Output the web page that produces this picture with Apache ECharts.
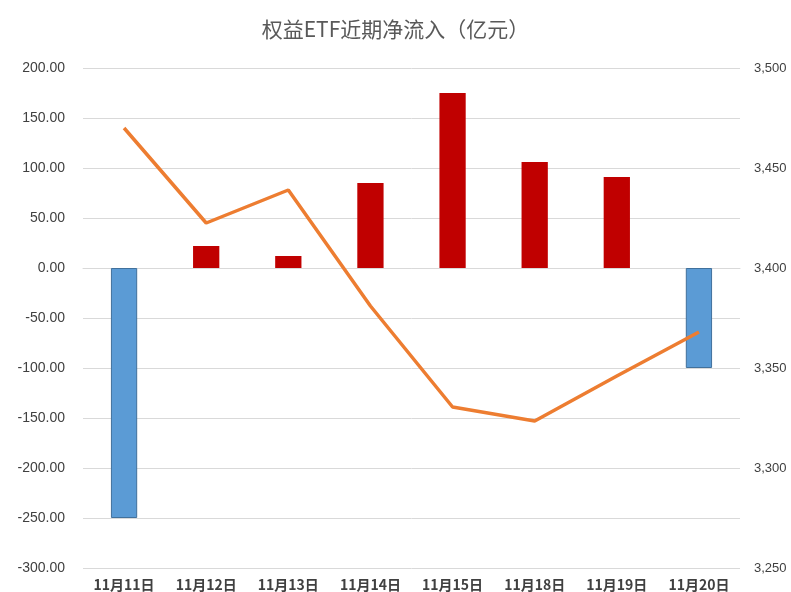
<!DOCTYPE html><html><head><meta charset="utf-8"><script src="https://cdn.jsdelivr.net/npm/echarts@6/dist/echarts.min.js"></script></head><body style="margin:0"><div id="c" style="width:791px;height:592px"></div><script>
const categories=['11月11日','11月12日','11月13日','11月14日','11月15日','11月18日','11月19日','11月20日'];
const flows=[-250,22,12,85,175,106,91,-100];
const index=[3470,3422.5,3439,3381,3330.5,3323.5,3346,3368];
const c=echarts.init(document.getElementById('c'));
c.setOption({animation:false,
title:{text:'权益ETF近期净流入（亿元）',left:'center',top:14,textStyle:{fontSize:21,fontWeight:'normal',color:'#595959',fontFamily:'Noto Sans CJK SC'}},
grid:{left:83,right:51,top:68,bottom:21},
xAxis:{type:'category',data:categories,axisLine:{onZero:true,lineStyle:{color:'#d9d9d9'}},axisTick:{show:false},
axisLabel:{fontWeight:'bold',fontSize:14,color:'#404040',margin:10,fontFamily:'Noto Sans CJK SC'}},
yAxis:[{type:'value',min:-300,max:200,interval:50,axisLabel:{formatter:v=>v.toFixed(2),fontSize:14,color:'#404040',margin:18},splitLine:{lineStyle:{color:'#d9d9d9'}}},
{type:'value',min:3250,max:3500,interval:50,axisLabel:{fontSize:13,color:'#404040',margin:14},splitLine:{show:false}}],
series:[{type:'bar',data:flows.map(v=>({value:v,itemStyle:{color:v<0?'#5B9BD5':'#C00000',borderColor:v<0?'#41719C':'#C00000',borderWidth:v<0?1:0}})),barWidth:'32%'},
{type:'line',yAxisIndex:1,data:index,symbol:'none',lineStyle:{color:'#ED7D31',width:3.5}}]});
</script></body></html>
